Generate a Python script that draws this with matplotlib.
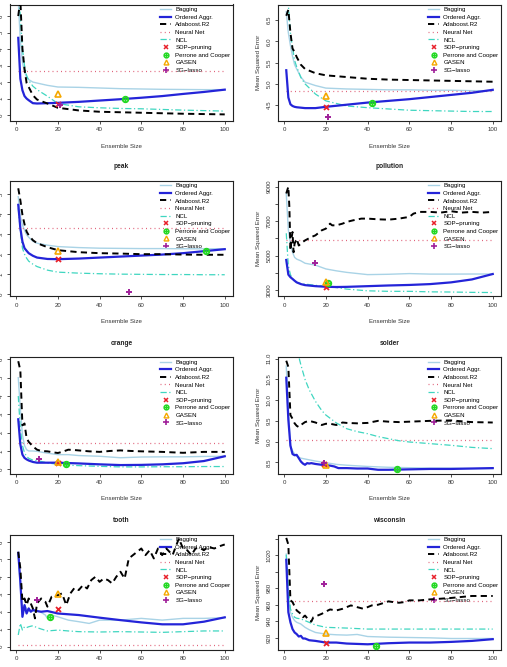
import matplotlib
matplotlib.use("Agg")
import matplotlib.pyplot as plt
from matplotlib.lines import Line2D
from matplotlib.path import Path

plt.rcParams["font.family"] = ["Liberation Sans", "DejaVu Sans"]

ENSEMBLE = [1, 100]
GRID = [1, 2, 3, 4, 5, 6, 8, 10, 15, 20, 30, 40, 50, 60, 70, 80, 90, 100]
GRID2 = [1, 2, 3, 4, 5, 6, 8, 10, 15, 20, 25, 30, 40, 50, 60, 70, 80, 90, 100]

# ---- panel 1 (title cut off at top) ----
p1_bag = [6.9, 4.5, 3.2, 2.6, 2.3, 2.15, 2.0, 1.94, 1.8, 1.7, 1.68, 1.64, 1.6, 1.58, 1.56, 1.55, 1.54, 1.54]
p1_oa = [4.68, 2.2, 1.5, 1.15, 1.0, 0.9, 0.72, 0.7, 0.72, 0.74, 0.8, 0.88, 0.96, 1.05, 1.15, 1.28, 1.4, 1.54]
p1_ada = [6.0, 7.0, 4.0, 2.8, 1.94, 1.7, 1.2, 0.94, 0.7, 0.44, 0.28, 0.2, 0.17, 0.14, 0.11, 0.08, 0.06, 0.04]
p1_ncl = [7.5, 6.0, 4.0, 3.0, 2.4, 2.1, 1.75, 1.54, 1.14, 0.7, 0.5, 0.44, 0.4, 0.38, 0.34, 0.3, 0.27, 0.24]
p1_nn = 2.68
p1_pts = {"sdp": (20, 0.68), "pc": (52, 1.0), "gasen": (20, 1.28), "sg": (21, 0.58)}

# ---- panel 2 (title cut off at top) ----
p2_bag = [6.7, 6.2, 5.9, 5.65, 5.45, 5.35, 5.16, 5.04, 4.96, 4.9, 4.88, 4.87, 4.86, 4.86, 4.85, 4.85, 4.84, 4.84]
p2_oa = [5.32, 4.68, 4.52, 4.48, 4.46, 4.45, 4.44, 4.43, 4.43, 4.46, 4.51, 4.56, 4.6, 4.64, 4.69, 4.74, 4.79, 4.86]
p2_ada = [6.6, 6.74, 6.2, 5.83, 5.75, 5.63, 5.45, 5.35, 5.25, 5.2, 5.16, 5.12, 5.1, 5.09, 5.08, 5.07, 5.06, 5.05]
p2_ncl = [7.3, 6.85, 6.2, 5.85, 5.55, 5.4, 5.15, 5.0, 4.76, 4.6, 4.48, 4.44, 4.41, 4.38, 4.37, 4.36, 4.35, 4.35]
p2_nn = 4.83
p2_pts = {"sdp": (20, 4.46), "pc": (42, 4.56), "gasen": (20, 4.72), "sg": (21, 4.23)}

# ---- peak ----
peak_bag = [4.88, 3.9, 3.47, 3.2, 2.97, 2.85, 2.65, 2.55, 2.45, 2.38, 2.33, 2.3, 2.29, 2.28, 2.28, 2.27, 2.27, 2.27]
peak_oa = [4.47, 3.3, 2.63, 2.3, 2.17, 2.05, 1.92, 1.83, 1.76, 1.75, 1.78, 1.83, 1.88, 1.93, 1.98, 2.05, 2.15, 2.25]
peak_ada = [5.3, 4.7, 3.97, 3.5, 3.13, 2.95, 2.7, 2.55, 2.35, 2.2, 2.1, 2.05, 2.03, 2.0, 2.0, 1.98, 1.97, 1.97]
peak_ncl = [4.3, 3.2, 2.3, 2.0, 1.8, 1.65, 1.5, 1.38, 1.2, 1.1, 1.05, 1.02, 1.0, 0.99, 0.98, 0.98, 0.97, 0.97]
peak_nn = 3.33
peak_pts = {"sdp": (20, 1.75), "pc": (91, 2.17), "gasen": (20, 2.17), "sg": (54, 0.13)}

# ---- pollution ----
pol_bag = [8600, 6500, 5700, 5200, 4900, 4800, 4700, 4560, 4450, 4230, 4120, 4030, 3900, 3920, 3960, 3930, 3930, 3935, 3935]
pol_oa = [4750, 3900, 3750, 3650, 3545, 3450, 3350, 3290, 3230, 3195, 3180, 3190, 3230, 3270, 3300, 3350, 3450, 3620, 3935]
pol_ncl = [6300, 4400, 3900, 3650, 3550, 3450, 3380, 3350, 3280, 3210, 3150, 3060, 2960, 2930, 2930, 2900, 2890, 2870, 2860]
pol_ada_x = [1, 2, 2.5, 3, 3.5, 4, 4.5, 5, 6, 7, 8, 9, 10, 13, 15, 18, 20, 22, 23, 25, 28, 30, 33, 37,
             40, 45, 50, 55, 60, 62, 65, 70, 75, 80, 85, 90, 95, 100]
pol_ada = [8610, 9000, 7800, 5300, 6000, 6370, 5200, 5700, 5980, 5590, 5700, 5800, 5885, 6080, 6180, 6470,
           6570, 6860, 6760, 6760, 6860, 6960, 7050, 7150, 7150, 7110, 7090, 7150, 7250, 7440, 7540, 7540,
           7500, 7580, 7500, 7540, 7500, 7540]
pol_nn = 5885
pol_pts = {"sdp": (20, 3210), "pc": (21, 3390), "gasen": (20, 3490), "sg": (15, 4560)}

# ---- orange ----
ora_bag = [5.0, 3.3, 1.88, 1.3, 1.07, 1.0, 1.0, 0.98, 0.88, 0.8, 0.8, 0.75, 0.71, 0.63, 0.67, 0.68, 0.68, 0.7, 0.71]
ora_oa = [2.73, 1.35, 0.8, 0.62, 0.54, 0.48, 0.4, 0.36, 0.36, 0.36, 0.34, 0.32, 0.27, 0.23, 0.24, 0.27, 0.33, 0.45, 0.71]
ora_ncl = [4.0, 2.2, 1.3, 0.9, 0.71, 0.6, 0.5, 0.48, 0.35, 0.27, 0.22, 0.2, 0.16, 0.13, 0.13, 0.14, 0.14, 0.15, 0.15]
ora_ada_x = [1, 2, 3, 4, 5, 6, 8, 10, 12, 15, 18, 20, 22, 25, 28, 30, 35, 40, 45, 50, 55, 60, 70, 80, 90, 100]
ora_ada = [5.9, 5.4, 2.4, 2.5, 1.7, 1.5, 1.25, 1.07, 1.0, 0.98, 0.92, 0.89, 0.95, 1.07, 1.05, 1.03, 0.98,
           0.95, 1.0, 1.03, 1.0, 0.98, 0.95, 0.9, 0.95, 0.95]
ora_nn = 1.43
ora_pts = {"sdp": (20, 0.37), "pc": (24, 0.27), "gasen": (20, 0.39), "sg": (11, 0.54)}

# ---- solder ----
sol_bag = [10.82, 9.8, 8.9, 8.78, 8.7, 8.65, 8.6, 8.58, 8.53, 8.49, 8.45, 8.43, 8.4, 8.38, 8.37, 8.36, 8.36, 8.35, 8.35]
sol_oa_x = [1, 2, 3, 4, 5, 6, 7, 8, 9, 10, 11, 12, 13, 15, 18, 20, 22, 24, 26, 30, 35, 40, 45, 50, 60, 70, 80, 90, 100]
sol_oa = [10.54, 9.53, 8.9, 8.7, 8.67, 8.68, 8.6, 8.52, 8.47, 8.44, 8.48, 8.47, 8.48, 8.46, 8.44, 8.43, 8.42,
          8.4, 8.36, 8.36, 8.35, 8.35, 8.32, 8.32, 8.33, 8.34, 8.34, 8.35, 8.36]
sol_ada_x = [1, 2, 3, 4, 5, 6, 7, 8, 10, 12, 15, 18, 20, 22, 25, 28, 30, 35, 40, 45, 50, 55, 60, 70, 80, 90, 100]
sol_ada = [10.95, 10.8, 9.64, 9.55, 9.44, 9.38, 9.35, 9.4, 9.47, 9.5, 9.46, 9.4, 9.43, 9.43, 9.4, 9.46, 9.45,
           9.44, 9.45, 9.5, 9.48, 9.47, 9.48, 9.5, 9.51, 9.47, 9.46]
sol_ncl_x = [1, 2, 3, 4, 5, 6, 7, 8, 10, 12, 15, 18, 20, 25, 30, 35, 40, 45, 50, 55, 60, 70, 80, 90, 100]
sol_ncl = [14.0, 13.0, 12.5, 12.0, 11.6, 11.3, 11.05, 10.85, 10.5, 10.25, 9.97, 9.75, 9.64, 9.45, 9.31, 9.24,
           9.19, 9.12, 9.07, 9.02, 8.99, 8.95, 8.91, 8.86, 8.83]
sol_nn = 9.03
sol_pts = {"sdp": (19, 8.47), "pc": (54, 8.34), "gasen": (20, 8.43), "sg": (19, 8.48)}

# ---- tooth ----
too_bag_x = [1, 2, 3, 4, 5, 6, 7, 8, 10, 12, 14, 15, 17, 20, 25, 30, 35, 40, 45, 50, 60, 70, 80, 90, 100]
too_bag = [5.24, 3.52, 1.71, 2.38, 2.19, 2.04, 2.1, 2.04, 2.04, 1.96, 1.81, 1.62, 1.81, 1.71, 1.52, 1.43,
           1.33, 1.52, 1.52, 1.52, 1.62, 1.52, 1.62, 1.62, 1.66]
too_oa_x = [1, 2, 3, 4, 5, 6, 7, 8, 10, 12, 15, 20, 30, 40, 50, 60, 70, 80, 90, 100]
too_oa = [5.37, 3.71, 1.71, 2.38, 1.9, 2.19, 2.0, 2.1, 2.04, 2.0, 2.04, 1.9, 1.81, 1.66, 1.52, 1.39, 1.28,
          1.28, 1.43, 1.68]
too_ada_x = [1, 2, 3, 4, 5, 6, 8, 9, 10, 12, 14, 15, 17, 20, 22, 24, 26, 28, 30, 32, 34, 36, 38, 40, 42, 44,
             46, 48, 50, 52, 54, 56, 58, 60, 62, 64, 66, 68, 70, 72, 75, 78, 80, 82, 84, 86, 88, 90, 92, 95,
             98, 100]
too_ada = [5.43, 4.48, 2.57, 2.76, 2.38, 2.76, 2.19, 1.62, 2.48, 2.76, 2.57, 2.29, 2.86, 2.95, 3.05, 2.38,
           3.05, 3.37, 3.24, 3.52, 3.33, 3.81, 4.0, 3.71, 3.9, 3.81, 3.62, 4.0, 4.29, 3.9, 5.05, 5.24, 5.43,
           5.62, 5.24, 5.52, 5.05, 5.62, 5.24, 5.62, 5.24, 6.19, 5.62, 5.52, 5.24, 5.62, 5.66, 5.52, 5.71,
           5.62, 5.77, 5.85]
too_ncl_x = [1, 2, 3, 4, 5, 6, 8, 10, 12, 15, 20, 25, 30, 40, 50, 60, 70, 80, 90, 100]
too_ncl = [0.67, 1.33, 0.95, 1.14, 1.09, 1.14, 1.2, 1.09, 1.01, 0.9, 0.95, 0.9, 0.86, 0.84, 0.86, 0.84, 0.82,
           0.86, 0.9, 0.9]
too_nn = 0.1
too_pts = {"sdp": (20, 2.13), "pc": (16, 1.71), "gasen": (20, 2.99), "sg": (10, 2.67)}

# ---- wisconsin ----
wis_bag_x = [1, 2, 3, 4, 5, 6, 8, 10, 12, 15, 20, 25, 30, 35, 40, 50, 60, 70, 80, 90, 100]
wis_bag = [1021.2, 975.5, 951.0, 944.9, 940.8, 938.8, 936.7, 932.7, 929.8, 926.5, 924.5, 923.7, 923.3,
           924.1, 921.6, 920.8, 920.4, 920.0, 919.2, 919.2, 919.2]
wis_oa_x = [1, 2, 3, 4, 5, 6, 7, 8, 9, 10, 12, 15, 20, 25, 30, 40, 50, 60, 70, 80, 90, 100]
wis_oa = [1014.3, 951.0, 938.8, 930.6, 926.5, 924.5, 921.6, 922.4, 919.2, 919.2, 917.1, 916.3, 914.3,
          914.3, 913.1, 912.2, 913.5, 914.3, 914.3, 915.1, 916.3, 918.4]
wis_ada_x = [1, 2, 3, 4, 5, 6, 8, 9, 10, 12, 13, 14, 16, 18, 20, 22, 25, 28, 32, 35, 38, 40, 42, 45, 48,
             50, 52, 55, 58, 60, 65, 70, 75, 80, 90, 100]
wis_ada = [1040.8, 1032.7, 965.3, 963.3, 958.0, 953.1, 949.0, 944.9, 946.9, 940.8, 939.6, 944.9, 946.9,
           949.0, 951.8, 954.3, 953.1, 955.1, 959.2, 957.1, 955.1, 957.1, 959.2, 960.0, 962.4, 964.1, 963.3,
           962.4, 963.3, 965.3, 965.3, 966.5, 967.3, 968.2, 970.6, 970.6]
wis_ncl_x = [1, 2, 3, 4, 5, 6, 8, 10, 15, 20, 30, 40, 60, 80, 100]
wis_ncl = [1020.4, 979.6, 955.1, 949.0, 944.9, 943.7, 942.9, 940.8, 935.5, 932.7, 931.8, 930.6, 930.6,
           930.6, 930.6]
wis_nn = 964.5
wis_pts = {"sdp": (20, 914.3), "pc": (44, 910.2), "gasen": (20, 925.3), "sg": (19, 984.5)}

LEGEND_LABELS = ["Bagging", "Ordered Aggr.", "Adaboost.R2", "Neural Net", "NCL",
                 "SDP\u2212pruning", "Perrone and Cooper", "GASEN", "SG\u2212lasso"]

C_BAG = "#a9d3e6"
C_OA = "#2424d8"
C_NCL = "#3fd6c0"
C_NN = "#e0627a"
C_SDP = "#e8202a"
C_PC = "#22d822"
C_GAS = "#f5a800"
C_SG = "#a0209a"

# circle with a plus inside (R pch=10)
CIRCLE_PLUS = Path.make_compound_path(
    Path.unit_circle(),
    Path([[-1, 0], [1, 0]], [Path.MOVETO, Path.LINETO]),
    Path([[0, -1], [0, 1]], [Path.MOVETO, Path.LINETO]),
)

FS = 4.4
W, H = 507, 667


def add_panel(rect, title, bag, oa, ada, ncl, nn, pts, ylim, yticks, yticklabels=None,
              show_ylabel=True, show_xlabel=True):
    left, top, right, bottom = rect
    ax = fig.add_axes([left / W, 1 - bottom / H, (right - left) / W, (bottom - top) / H])
    ax.plot(*bag, color=C_BAG, lw=1.0, zorder=2)
    ax.plot(*oa, color=C_OA, lw=1.6, zorder=3)
    ax.plot(*ada, color="black", lw=1.4, dashes=(3.2, 2.2), zorder=3)
    ax.plot(ENSEMBLE, [nn, nn], color=C_NN, lw=0.9, dashes=(0.8, 2.6), zorder=2)
    ax.plot(*ncl, color=C_NCL, lw=0.9, dashes=(5, 2, 1, 2), zorder=2)
    ax.plot(*pts["sdp"], marker="x", color=C_SDP, ms=3.6, mew=1.3, zorder=5)
    ax.plot(*pts["pc"], marker=CIRCLE_PLUS, color=C_PC, mfc="none", ms=4.2, mew=1.1, zorder=5)
    ax.plot(*pts["gasen"], marker="^", color=C_GAS, mfc="none", ms=4.2, mew=1.2, zorder=5)
    ax.plot(*pts["sg"], marker="+", color=C_SG, ms=5, mew=1.4, zorder=5)

    ax.set_xlim(-2.96, 103.96)
    ax.set_ylim(*ylim)
    ax.set_xticks([0, 20, 40, 60, 80, 100])
    ax.set_yticks(yticks)
    if yticklabels is not None:
        ax.set_yticklabels(yticklabels)
    ax.tick_params(direction="out", length=2.4, width=0.6, labelsize=FS, pad=2.2, colors="#333333")
    for lab in ax.get_yticklabels():
        lab.set_rotation(90)
        lab.set_va("center")
    for sp in ax.spines.values():
        sp.set_linewidth(0.8)
        sp.set_color("#222222")
    if show_xlabel:
        ax.set_xlabel("Ensemble Size", fontsize=FS, labelpad=8, color="#333333")
    if show_ylabel:
        ax.set_ylabel("Mean Squared Error", fontsize=FS, labelpad=4, color="#333333")
    if title:
        ax.set_title(title, fontsize=FS + 0.4, fontweight="bold", pad=9, color="#222222")

    handles = [
        Line2D([], [], color=C_BAG, lw=1.0),
        Line2D([], [], color=C_OA, lw=1.6),
        Line2D([], [], color="black", lw=1.4, dashes=(3.2, 2.2)),
        Line2D([], [], color=C_NN, lw=0.9, dashes=(0.8, 2.6)),
        Line2D([], [], color=C_NCL, lw=0.9, dashes=(5, 2, 1, 2)),
        Line2D([], [], ls="none", marker="x", color=C_SDP, ms=3, mew=1.1),
        Line2D([], [], ls="none", marker=CIRCLE_PLUS, color=C_PC, mfc="none", ms=3.5, mew=1),
        Line2D([], [], ls="none", marker="^", color=C_GAS, mfc="none", ms=3.5, mew=1),
        Line2D([], [], ls="none", marker="+", color=C_SG, ms=4, mew=1.2),
    ]
    leg = ax.legend(handles, LEGEND_LABELS, loc="upper right", borderaxespad=0, fontsize=FS,
                    handlelength=1.8, handletextpad=0.7, labelspacing=0.38, borderpad=0.4,
                    fancybox=False, framealpha=0, edgecolor="#222222")
    leg.get_frame().set_linewidth(0.8)
    leg.set_zorder(1)
    return ax


fig = plt.figure(figsize=(W / 100, H / 100), dpi=100)

LX = (10, 233)
RX = (278, 501)
ROWS = [(4.5, 121), (180.7, 296.5), (357, 473.5), (534.5, 650)]

add_panel((LX[0], ROWS[0][0], LX[1], ROWS[0][1]), None,
          (GRID, p1_bag), (GRID, p1_oa), (GRID, p1_ada), (GRID, p1_ncl), p1_nn, p1_pts,
          (-0.36, 6.7), range(7), show_ylabel=False)
add_panel((RX[0], ROWS[0][0], RX[1], ROWS[0][1]), None,
          (GRID, p2_bag), (GRID, p2_oa), (GRID, p2_ada), (GRID, p2_ncl), p2_nn, p2_pts,
          (4.127, 6.865), [4.5, 5.0, 5.5, 6.0, 6.5])
add_panel((LX[0], ROWS[1][0], LX[1], ROWS[1][1]), "peak",
          (GRID, peak_bag), (GRID, peak_oa), (GRID, peak_ada), (GRID, peak_ncl), peak_nn, peak_pts,
          (-0.12, 5.68), range(6), show_ylabel=False)
add_panel((RX[0], ROWS[1][0], RX[1], ROWS[1][1]), "pollution",
          (GRID2, pol_bag), (GRID2, pol_oa), (pol_ada_x, pol_ada), (GRID2, pol_ncl), pol_nn, pol_pts,
          (2630, 9351), range(3000, 9001, 1000), ["3000", "", "5000", "", "7000", "", "9000"])
add_panel((LX[0], ROWS[2][0], LX[1], ROWS[2][1]), "orange",
          (GRID2, ora_bag), (GRID2, ora_oa), (ora_ada_x, ora_ada), (GRID2, ora_ncl), ora_nn, ora_pts,
          (-0.23, 6.13), range(7), show_ylabel=False)
add_panel((RX[0], ROWS[2][0], RX[1], ROWS[2][1]), "solder",
          (GRID2, sol_bag), (sol_oa_x, sol_oa), (sol_ada_x, sol_ada), (sol_ncl_x, sol_ncl), sol_nn, sol_pts,
          (8.23, 11.04), [8.5, 9.0, 9.5, 10.0, 10.5, 11.0])
add_panel((LX[0], ROWS[3][0], LX[1], ROWS[3][1]), "tooth",
          (too_bag_x, too_bag), (too_oa_x, too_oa), (too_ada_x, too_ada), (too_ncl_x, too_ncl), too_nn,
          too_pts, (-0.19, 6.42), range(7), show_ylabel=False, show_xlabel=False)
add_panel((RX[0], ROWS[3][0], RX[1], ROWS[3][1]), "wisconsin",
          (wis_bag_x, wis_bag), (wis_oa_x, wis_oa), (wis_ada_x, wis_ada), (wis_ncl_x, wis_ncl), wis_nn,
          wis_pts, (905.3, 1044.9), range(920, 1041, 20), ["920", "940", "960", "980", "", "1020", ""],
          show_xlabel=False)

fig.savefig("out.png", dpi=100)
